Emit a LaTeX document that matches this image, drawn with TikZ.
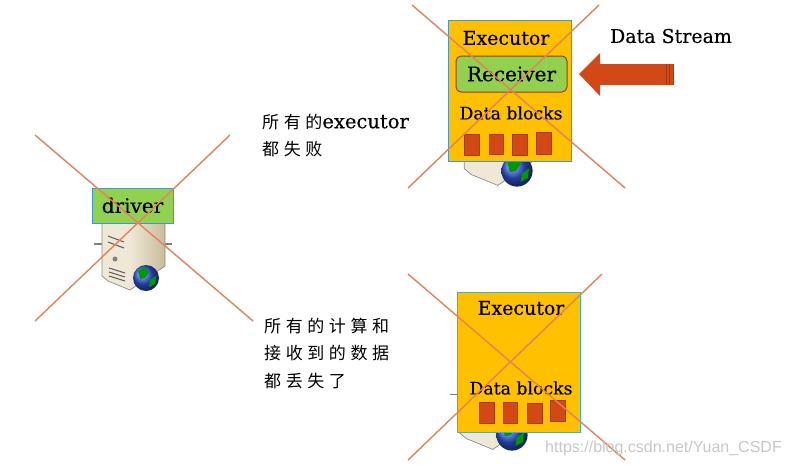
\documentclass[tikz,border=0pt]{standalone}
\usepackage{fontspec}
\setmainfont{DejaVu Serif}
\newfontfamily\labelfont[FakeBold=0.35]{DejaVu Serif}
\newfontfamily\cjk[LetterSpace=27]{Noto Sans CJK SC}
\newfontfamily\markfont{Liberation Sans}
\usetikzlibrary{positioning}
\definecolor{execfill}{HTML}{FFC000}
\definecolor{execline}{HTML}{3E9BC8}
\definecolor{recvfill}{HTML}{92D050}
\definecolor{blockfill}{HTML}{D34817}
\definecolor{blockline}{HTML}{A53A12}
\definecolor{crossline}{HTML}{E8805A}
\definecolor{serverfront}{HTML}{EFE8D6}
\definecolor{serverside}{HTML}{C9BC9C}
\definecolor{globeblue}{HTML}{2F55D8}

\tikzset{
  pics/server/.style={code={
    \draw[gray, line width=1.2pt] (-52,-34) -- (-43,-34) (19,-34) -- (26,-34);
    \fill[serverfront] (-44,-55) -- (-16,-55) -- (-16,12) -- (-38,3) -- (-44,-2) -- cycle;
    \shade[left color=serverfront, right color=serverside] (-16,-55) -- (19,-55) -- (19,-12) -- (-16,12) -- cycle;
    \draw[black!45, line width=0.7pt] (-44,-55) -- (-44,-2) -- (-38,3) -- (-16,12) -- (19,-12) -- (19,-55);
    \shade[ball color=globeblue] (0,0) circle (13);
    \fill[green!60!black] (-8,-7) -- (-2,-11) -- (3,-6) -- (-1,0) -- (-6,1) -- cycle (4,2) -- (10,-2) -- (9,6) -- (3,9) -- cycle;
  }},
}

\begin{document}
\begin{tikzpicture}[
  x=1pt, y=-1pt,
  font=\labelfont\fontsize{19}{22}\selectfont,
  execbox/.style={draw=execline, fill=execfill, line width=1pt, minimum width=123pt, inner sep=0pt},
  tagbox/.style={draw=execline, fill=recvfill, line width=1pt, minimum width=81pt, minimum height=35pt, inner sep=0pt, font=\labelfont\fontsize{20}{22}\selectfont},
  recvbox/.style={draw=blockline, fill=recvfill, line width=1pt, rounded corners=5pt, minimum width=111pt, minimum height=36pt, inner sep=0pt, font=\labelfont\fontsize{20}{22}\selectfont},
  blockbox/.style={draw=blockline, fill=blockfill, line width=0.6pt, minimum width=15pt, minimum height=21pt, inner sep=0pt},
  cross/.style={crossline, line width=1.4pt},
  blocktext/.style={font=\labelfont\fontsize{17.3}{20}\selectfont},
  note/.style={anchor=west, inner sep=0pt, align=left, font=\cjk\fontsize{17}{27.5}\selectfont}
]
\useasboundingbox (0,0) rectangle (791,466);

% driver
\pic at (146,278) {server};
\draw[black!65, line width=1pt] (108,236) -- (124,242) (108,242) -- (124,248) (109,268) -- (125,273) (109,272) -- (125,277) (109,276) -- (125,281);
\fill[gray] (115,259) circle (2.5);
\node[tagbox] (driver) at (132.5,205.5) {driver};

% upper executor
\pic[scale=1.2] at (517,171) {server};
\node[execbox, minimum height=141pt] (exectop) at (509.5,90.5) {};
\node (exectoplabel) at (506,38) {Executor};
\node[recvbox] (receiver) at (511.5,74) {Receiver};
\node[blocktext] (datatop) at (511,113) {Data blocks};
\node[blockbox] (bt1) at (472,144.5) {};
\node[blockbox, minimum width=14pt, minimum height=20pt] (bt2) at (496,144) {};
\node[blockbox] (bt3) at (520,144.5) {};
\node[blockbox, minimum height=22pt] (bt4) at (543.5,143) {};

% data stream
\node (stream) at (671,36) {Data Stream};
\fill[blockfill] (579,74) -- (600,53) -- (600,64) -- (673,64) -- (673,85) -- (600,85) -- (600,96) -- cycle;
\draw[blockline, line width=0.6pt] (666,64) -- (666,85) (669,64) -- (669,85) (673,64) -- (673,85);

% lower executor
\pic[scale=1.2] at (512,435) {server};
\node[execbox, draw=execline!70!cyan, minimum height=140pt] (execlow) at (518.5,362) {};
\node (execlowlabel) at (521,308) {Executor};
\node[blocktext] (datalow) at (521,388) {Data blocks};
\node[blockbox] (bl1) at (486.5,412.5) {};
\node[blockbox, minimum width=14pt] (bl2) at (510,412.5) {};
\node[blockbox, minimum height=20pt] (bl3) at (534.5,413) {};
\node[blockbox] (bl4) at (557.5,411) {};

% crosses
\coordinate (da) at (35,135);
\coordinate (db) at (253,321);
\coordinate (dc) at (230,135);
\coordinate (dd) at (35,321);
\draw[cross] (da) -- (db);
\draw[cross] (dc) -- (dd);
\coordinate (ta) at (412,5);
\coordinate (tb) at (625,188);
\coordinate (tc) at (599,5);
\coordinate (td) at (408,188);
\draw[cross] (ta) -- (tb);
\draw[cross] (tc) -- (td);
\coordinate (la) at (408,274);
\coordinate (lb) at (625,460);
\coordinate (lc) at (602,274);
\coordinate (ld) at (408,460);
\draw[cross] (la) -- (lb);
\draw[cross] (lc) -- (ld);

% notes
\node[note] (noteone) at (262,135.5) {所有的{\labelfont\fontsize{19.5}{18}\selectfont executor}\\都失败};
\node[note] (notetwo) at (264,353) {所有的计算和\\接收到的数据\\都丢失了};

\node[anchor=east, inner sep=0pt, text=black!22, font=\markfont\fontsize{16}{18}\selectfont] (mark) at (782,448) {https://blog.csdn.net/Yuan\_CSDF};
\end{tikzpicture}
\end{document}
